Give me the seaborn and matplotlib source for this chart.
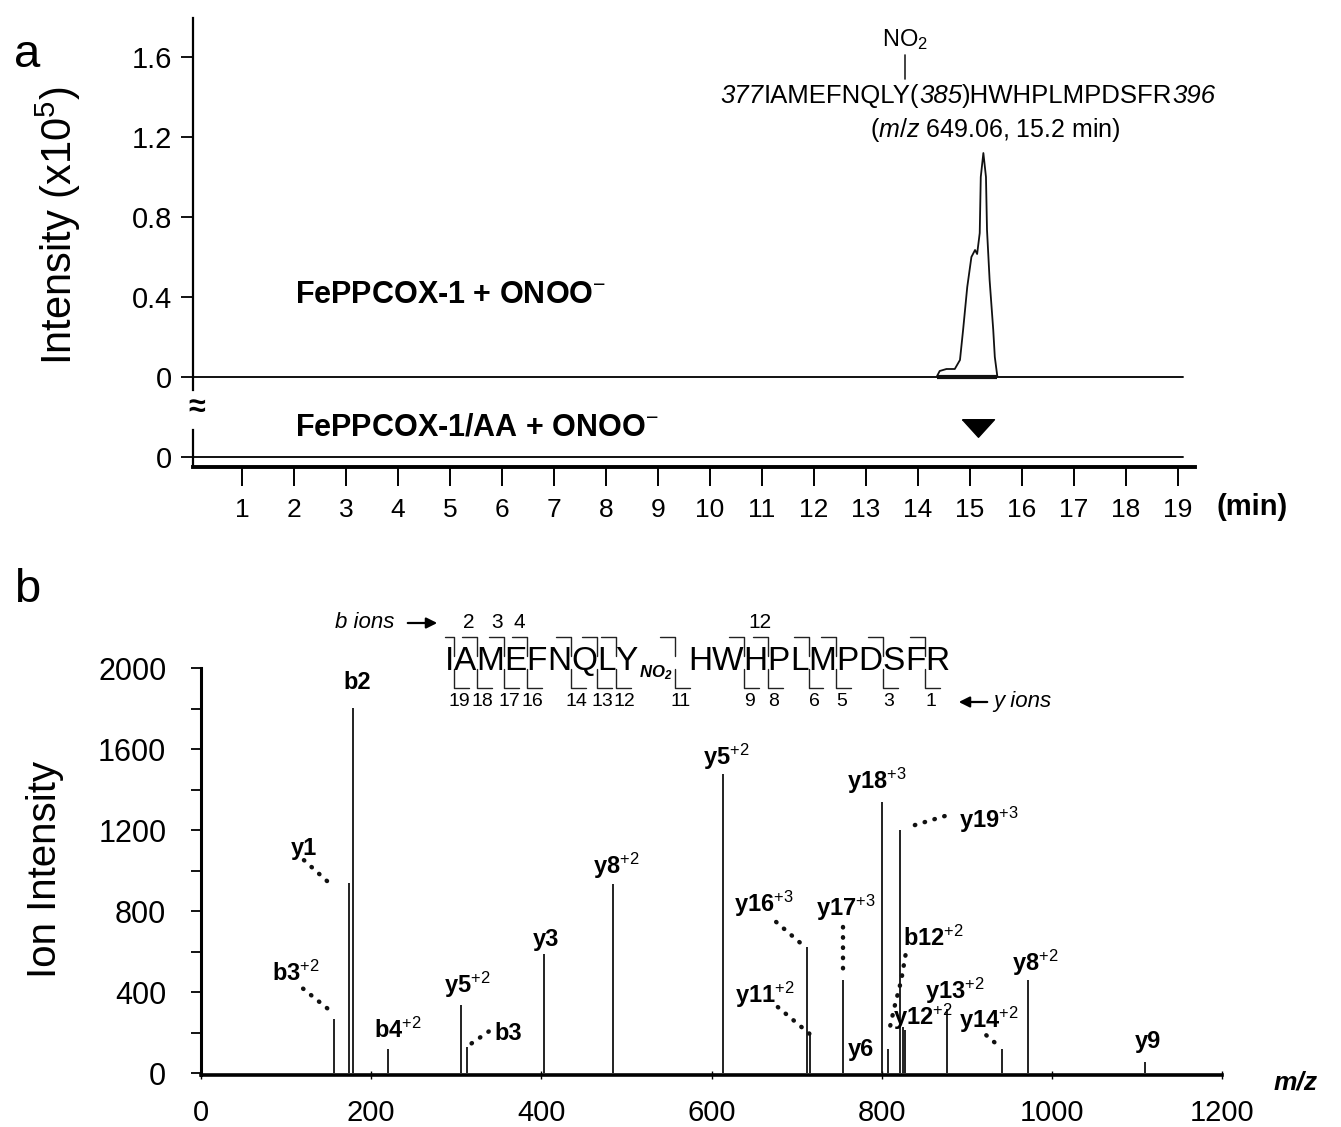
import matplotlib
matplotlib.use("Agg")
import matplotlib.pyplot as plt
import seaborn as sns
import pandas as pd
from matplotlib.lines import Line2D
from matplotlib.ticker import MultipleLocator

# ---------------------------------------
# panel a : XIC (m/z 649.06), intensity x10^5
# ---------------------------------------
rt_min = [14.36, 14.42, 14.55, 14.71, 14.81, 14.87, 14.95, 15.03, 15.10, 15.14,
          15.19, 15.21, 15.26, 15.31, 15.33, 15.38, 15.45, 15.48, 15.53]
xic_intensity = [0.0, 0.03, 0.04, 0.04, 0.085, 0.235, 0.45, 0.60, 0.635, 0.615,
                 0.72, 1.0, 1.12, 1.0, 0.735, 0.485, 0.235, 0.10, 0.0]
rt_ticks = list(range(1, 20))
xic_yticks = [0, 0.4, 0.8, 1.2, 1.6]
xic_yticklabels = ["0", "0.4", "0.8", "1.2", "1.6"]
aa_rt = [15.15]   # expected position, no peak with AA

# ---------------------------------------
# panel b : MS/MS spectrum
# ---------------------------------------
ion_mz = [156.6, 174.3, 178.3, 220.1, 305.5, 312.2, 403.1, 484.5, 613.7, 711.7,
          715.6, 754.8, 800.2, 807.6, 821.4, 825.3, 827.8, 876.3, 940.9, 972.2, 1109.3]
ion_int = [270, 937, 1801, 122, 336, 130, 590, 933, 1475, 624,
           204, 459, 1340, 122, 1200, 229, 212, 320, 122, 459, 54]

ion_labels = ["b2", "y1", r"b3$^{+2}$", r"b4$^{+2}$", r"y5$^{+2}$", "b3", "y3",
              r"y8$^{+2}$", r"y5$^{+2}$", r"y16$^{+3}$", r"y11$^{+2}$", r"y17$^{+3}$",
              "y6", r"y18$^{+3}$", r"y19$^{+3}$", r"b12$^{+2}$", r"y12$^{+2}$",
              r"y13$^{+2}$", r"y14$^{+2}$", r"y8$^{+2}$", "y9"]
label_mz = [184, 121, 112, 232, 313, 361, 405, 488, 617, 662, 663, 758,
            776, 794, 926, 861, 848, 886, 926, 980, 1113]
label_int = [1926, 1111, 494, 212, 435, 198, 662, 1022, 1560, 835, 385, 815,
             119, 1442, 1249, 667, 277, 405, 262, 543, 158]

# dotted leaders (label -> peak)
leader_mz = [[121, 156], [120, 156], [318, 340], [676, 712], [678, 715],
             [755, 755], [839, 884], [828, 823, 815, 808], [923, 939]]
leader_int = [[1052, 919], [418, 295], [148, 212], [747, 616], [327, 196],
              [722, 517], [1225, 1282], [583, 459, 327, 196], [188, 130]]

# peptide sequence with fragment sites
seq_part1 = "IAMEFNQLY"
seq_part2 = "HWHPLMPDSFR"
cleave_sites = [1, 2, 3, 4, 6, 7, 8, 9, 11, 12, 14, 15, 17, 19]
b_shown = [2, 3, 4, 12]

# ---------------------------------------
# style
# ---------------------------------------
sns.set_theme(style="ticks", rc={"text.color": "black", "axes.edgecolor": "black",
                                 "xtick.color": "black", "ytick.color": "black"})
plt.rcParams["font.family"] = ["Liberation Sans", "DejaVu Sans"]
plt.rcParams["mathtext.fontset"] = "custom"
plt.rcParams["mathtext.rm"] = "Liberation Sans"
plt.rcParams["mathtext.it"] = "Liberation Sans:italic"
plt.rcParams["mathtext.bf"] = "Liberation Sans:bold"
plt.rcParams["mathtext.bfit"] = "Liberation Sans:bold:italic"
plt.rcParams["mathtext.sf"] = "Liberation Sans"

W, H = 1341, 1127
fig = plt.figure(figsize=(W / 100, H / 100), dpi=100)
renderer = fig.canvas.get_renderer()


def fx(x):
    return x / W


def fy(y):
    return 1 - y / H


def place_runs(pieces, cx, base_y, size):
    # mixed upright / italic text centred on cx (pixels)
    texts, widths = [], []
    for s, st in pieces:
        t = fig.text(0, 0, s, fontsize=size, style=st, ha="left", va="baseline")
        texts.append(t)
        widths.append(t.get_window_extent(renderer).width)
    x = cx - sum(widths) / 2
    for t, w in zip(texts, widths):
        t.set_position((fx(x), fy(base_y)))
        x += w


# ---------------------------------------
# panel a
# ---------------------------------------
ax_top = fig.add_axes([fx(193), fy(390), (1195 - 193) / W, (390 - 18) / H])
ax_low = fig.add_axes([fx(193), fy(467), (1195 - 193) / W, (467 - 430) / H])
xlim_a = (0.06, 19.33)
base_end = (19.1 - xlim_a[0]) / (xlim_a[1] - xlim_a[0])

xic = pd.DataFrame({"rt": rt_min, "intensity": xic_intensity})
sns.lineplot(data=xic, x="rt", y="intensity", ax=ax_top, color="#111111",
             lw=1.3, estimator=None, sort=False)
ax_top.hlines(0, rt_min[0], rt_min[-1], color="#111111", lw=3)
ax_top.axhline(0, xmin=0, xmax=base_end, color="#111111", lw=1.4)
ax_top.set_xlim(*xlim_a)
ax_top.set_ylim(-0.065, 1.795)
for s in ["top", "right", "bottom"]:
    ax_top.spines[s].set_visible(False)
ax_top.spines["left"].set_linewidth(1.6)
ax_top.set_xticks([])
ax_top.set_yticks(xic_yticks)
ax_top.set_yticklabels(xic_yticklabels)
ax_top.tick_params(axis="y", direction="out", length=9, width=1.3, labelsize=21, pad=6)
ax_top.set_xlabel("")
ax_top.set_ylabel("")

ax_low.axhline(0, xmin=0, xmax=base_end, color="#111111", lw=1.4)
ax_low.set_xlim(*xlim_a)
ax_low.set_ylim(-0.05, 0.135)
for s in ["top", "right"]:
    ax_low.spines[s].set_visible(False)
ax_low.spines["left"].set_linewidth(1.6)
ax_low.spines["bottom"].set_linewidth(2.8)
ax_low.set_yticks([0])
ax_low.set_yticklabels(["0"])
ax_low.tick_params(axis="y", direction="out", length=9, width=1.3, labelsize=21, pad=6)
ax_low.set_xticks(rt_ticks)
ax_low.tick_params(axis="x", direction="out", length=14, width=1.4, labelsize=19, pad=8)
tri = [(-1, 0.55), (1, 0.55), (0, -0.55), (-1, 0.55)]
ax_low.plot(aa_rt, [1.05] * len(aa_rt), transform=ax_low.get_xaxis_transform(),
            marker=tri, markersize=23, color="black", ls="none", clip_on=False)

fig.text(fx(27), fy(55), "a", fontsize=34, ha="center", va="center")
fig.text(fx(58), fy(226), r"Intensity (x10$^5$)", fontsize=30, rotation=90,
         ha="center", va="center")
fig.text(fx(197), fy(408), "≈", fontsize=22, fontweight="bold", ha="center", va="center")
fig.text(fx(1252), fy(507), "(min)", fontsize=21, fontweight="bold", ha="center", va="center")
fig.text(fx(295), fy(295), r"FePPCOX-1 + ONOO$^{-}$", fontsize=22, fontweight="bold",
         ha="left", va="center")
fig.text(fx(295), fy(428), r"FePPCOX-1/AA + ONOO$^{-}$", fontsize=22, fontweight="bold",
         ha="left", va="center")
fig.text(fx(905), fy(40), r"NO$_2$", fontsize=17, ha="center", va="center")
fig.add_artist(Line2D([fx(905), fx(905)], [fy(55), fy(79)], color="#222222", lw=1.2))
place_runs([("377", "italic"), ("IAMEFNQLY(", "normal"), ("385", "italic"),
            (")HWHPLMPDSFR", "normal"), ("396", "italic")], 968, 103, 18.5)
fig.text(fx(995), fy(130), r"($\mathit{m/z}$ 649.06, 15.2 min)", fontsize=18,
         ha="center", va="center")

# ---------------------------------------
# panel b
# ---------------------------------------
ax_b = fig.add_axes([fx(201), fy(1075), (1222 - 201) / W, (1075 - 668) / H])
ax_b.vlines(ion_mz, 0, ion_int, color="#111111", lw=1.3)
for lab, x, y in zip(ion_labels, label_mz, label_int):
    ax_b.text(x, y, lab, fontsize=17, fontweight="bold", ha="center", va="center")
for xs, ys in zip(leader_mz, leader_int):
    ax_b.plot(xs, ys, color="#111111", lw=3.2, ls=(0, (0.1, 2.2)),
              dash_capstyle="round", solid_capstyle="round")
ax_b.set_xlim(0, 1200)
ax_b.set_ylim(-8, 2000)
for s in ["top", "right"]:
    ax_b.spines[s].set_visible(False)
ax_b.spines["left"].set_linewidth(2.2)
ax_b.spines["bottom"].set_linewidth(2.6)
ax_b.yaxis.set_major_locator(MultipleLocator(400))
ax_b.yaxis.set_minor_locator(MultipleLocator(200))
ax_b.xaxis.set_major_locator(MultipleLocator(200))
ax_b.tick_params(axis="y", which="both", direction="out", length=7, width=1.3,
                 labelsize=22, pad=18)
ax_b.tick_params(axis="x", direction="inout", length=6, width=1.0, labelsize=21, pad=14)

fig.text(fx(27), fy(590), "b", fontsize=34, ha="center", va="center")
fig.text(fx(45), fy(870), "Ion Intensity", fontsize=29, rotation=90, ha="center", va="center")
fig.text(fx(1296), fy(1082), "m/z", fontsize=19, fontweight="bold", style="italic",
         ha="center", va="center")

# peptide sequence with b / y fragment brackets
seq_y = 662
lefts, rights = [], []
x = 445
for res in seq_part1:
    t = fig.text(fx(x), fy(seq_y), res, fontsize=24, ha="left", va="center")
    w = t.get_window_extent(renderer).width
    lefts.append(x)
    rights.append(x + w)
    x += w
t = fig.text(fx(x + 1), fy(seq_y + 11), r"$\mathbfit{NO}_\mathbfit{2}$", fontsize=12,
             ha="left", va="center")
nitro_end = x + 1 + t.get_window_extent(renderer).width
x = 688
for res in seq_part2:
    t = fig.text(fx(x), fy(seq_y), res, fontsize=24, ha="left", va="center")
    w = t.get_window_extent(renderer).width
    lefts.append(x)
    rights.append(x + w)
    x += w

n_res = len(seq_part1) + len(seq_part2)
prev_c = -100
for k in cleave_sites:
    g = rights[k - 1] if k != len(seq_part1) else nitro_end + 3
    bw_top = min(rights[k - 1] - lefts[k - 1], 15)
    bw_bot = min(rights[k] - lefts[k], 15)
    fig.add_artist(Line2D([fx(g - bw_top), fx(g), fx(g)], [fy(637), fy(637), fy(656)],
                          color="#222222", lw=1.0))
    fig.add_artist(Line2D([fx(g), fx(g), fx(g + bw_bot)], [fy(669), fy(688), fy(688)],
                          color="#222222", lw=1.0))
    c = max(g + bw_bot / 2 - 2, prev_c + 22)
    prev_c = c
    fig.text(fx(c), fy(702), str(n_res - k), fontsize=14, ha="center", va="center")
    if k in b_shown:
        fig.text(fx(g - bw_top / 2), fy(623), str(k), fontsize=15, ha="center", va="center")

fig.text(fx(335), fy(623), "b ions", fontsize=16, style="italic", ha="left", va="center")
fig.add_artist(plt.Annotation("", xy=(fx(440), fy(623)), xytext=(fx(405), fy(623)),
                              xycoords="figure fraction", textcoords="figure fraction",
                              arrowprops=dict(arrowstyle="-|>", color="black", lw=1.6,
                                              mutation_scale=16)))
fig.text(fx(993), fy(702), "y ions", fontsize=16, style="italic", ha="left", va="center")
fig.add_artist(plt.Annotation("", xy=(fx(956), fy(702)), xytext=(fx(990), fy(702)),
                              xycoords="figure fraction", textcoords="figure fraction",
                              arrowprops=dict(arrowstyle="-|>", color="black", lw=1.6,
                                              mutation_scale=16)))

fig.savefig("out.png", dpi=100)
